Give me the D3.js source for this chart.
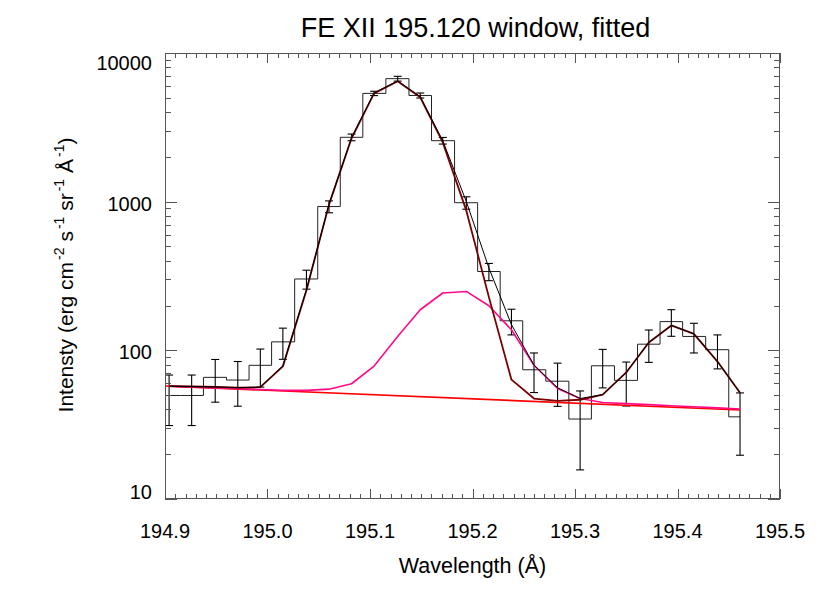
<!DOCTYPE html>
<html>
<head>
<meta charset="utf-8">
<script src="https://cdn.jsdelivr.net/npm/d3@7"></script>
<style>
  body { margin: 0; background: #fff; }
  svg text { font-family: "Liberation Sans", Arial, Helvetica, sans-serif; fill: #000; }
</style>
</head>
<body>
<script>
// spectrum bins (Angstrom) and measured intensity with 1-sigma errors
const wavelength = [194.904, 194.926, 194.949, 194.971, 194.993, 195.015, 195.038, 195.060, 195.082,
  195.104, 195.127, 195.149, 195.171, 195.194, 195.216, 195.238, 195.260, 195.283, 195.305,
  195.327, 195.350, 195.372, 195.394, 195.416, 195.439, 195.461]
const intensity = [49.7, 49.7, 65.8, 63.1, 79.3, 114, 302, 927, 2710, 5350, 6720, 5180, 2572,
  984, 339, 158, 74, 62, 34.5, 78.7, 62.8, 110, 156, 124, 101, 35.7]
const errors = [18.5, 18.5, 21, 21, 22.7, 27, 44, 85, 140, 180, 250, 200, 132,
  94, 45, 31, 22, 20, 18.8, 22.8, 20.6, 27, 31.7, 28, 26, 16]

// fitted curves
const fitTotal = [57.4, 57.1, 56.7, 56.1, 56.5, 78.7, 256, 960, 2690, 5380, 6480, 5080, 2570,
  1000, 358, 149, 79.4, 56, 47.4, 50.4, 71, 113, 147, 129, 84, 51.8]
const fitMain = [57.4, 57.1, 56.7, 56.1, 56.5, 78, 254, 955, 2670, 5350, 6450, 5040, 2506,
  870, 228, 63.5, 47.4, 45.7, 46.5, 50.4, 71, 113, 147, 129, 84, 51.8]
const fitBlend = [57.3, 56.6, 55.9, 55.2, 54.5, 53.8, 53.8, 54.8, 59.6, 78.4, 124, 187.5, 243,
  249, 199.5, 137.5, 79.4, 55.4, 47.4, 44.6, 43.8, 43.1, 42.4, 41.7, 41.0, 40.3]
const bgWave = [194.9, 195.461]
const bgLevel = [57.5, 39.7]

const xTicks = [194.9, 195.0, 195.1, 195.2, 195.3, 195.4, 195.5]
const xTickLabels = ['194.9', '195.0', '195.1', '195.2', '195.3', '195.4', '195.5']
const yTicks = [10, 100, 1000, 10000]
const yTickLabels = ['10', '100', '1000', '10000']

const width = 830
const height = 604
const plotLeft = 165, plotRight = 780, plotTop = 53, plotBottom = 499

const svg = d3.select('body').append('svg')
  .attr('width', width)
  .attr('height', height)

const x = d3.scaleLinear().domain([194.9, 195.5]).range([plotLeft, plotRight])
const y = d3.scaleLog().domain([10, 10000]).range([plotBottom, plotTop])

svg.append('defs').append('clipPath').attr('id', 'plot')
  .append('rect')
  .attr('x', plotLeft).attr('y', plotTop)
  .attr('width', plotRight - plotLeft).attr('height', plotBottom - plotTop)

const plot = svg.append('g').attr('clip-path', 'url(#plot)')

// histogram (psym=10 style steps)
let d = ''
wavelength.forEach((w, i) => {
  const px = x(w), py = y(intensity[i])
  if (i === 0) {
    const half = (x(wavelength[1]) - px) / 2
    d += `M${px - half},${py}`
  } else {
    const mid = (x(wavelength[i - 1]) + px) / 2
    d += `H${mid}V${py}`
  }
})
d += `H${x(wavelength[wavelength.length - 1])}`
plot.append('path')
  .attr('d', d)
  .attr('fill', 'none')
  .attr('stroke', '#222')
  .attr('stroke-width', 1)

// error bars
const bars = plot.append('g')
  .attr('stroke', '#000')
  .attr('stroke-width', 1.1)
  .selectAll('g')
  .data(wavelength)
  .enter().append('g')
bars.append('line')
  .attr('x1', (w) => x(w)).attr('x2', (w) => x(w))
  .attr('y1', (w, i) => y(intensity[i] + errors[i]))
  .attr('y2', (w, i) => y(intensity[i] - errors[i]))
bars.append('line')
  .attr('x1', (w) => x(w) - 4).attr('x2', (w) => x(w) + 4)
  .attr('y1', (w, i) => y(intensity[i] + errors[i]))
  .attr('y2', (w, i) => y(intensity[i] + errors[i]))
bars.append('line')
  .attr('x1', (w) => x(w) - 4).attr('x2', (w) => x(w) + 4)
  .attr('y1', (w, i) => y(intensity[i] - errors[i]))
  .attr('y2', (w, i) => y(intensity[i] - errors[i]))

const line = d3.line()
  .x((p) => x(p[0]))
  .y((p) => y(p[1]))

function drawCurve(values, waves, color, w) {
  plot.append('path')
    .datum(waves.map((wv, i) => [wv, values[i]]))
    .attr('d', line)
    .attr('fill', 'none')
    .attr('stroke', color)
    .attr('stroke-width', w)
    .attr('stroke-linejoin', 'round')
}

drawCurve(bgLevel, bgWave, '#ff0000', 1.6)
drawCurve(fitBlend, wavelength, '#ff0a88', 1.6)
drawCurve(fitMain, wavelength, '#7a0000', 1.8)
drawCurve(fitTotal, wavelength, '#000', 1)

// frame and ticks
const axis = svg.append('g').attr('stroke', '#555').attr('stroke-width', 1)
axis.append('rect')
  .attr('x', plotLeft + 0.5).attr('y', plotTop + 0.5)
  .attr('width', plotRight - plotLeft - 1).attr('height', plotBottom - plotTop - 1)
  .attr('fill', 'none')

const xMinor = d3.range(0, 61).map((i) => 194.9 + i * 0.01)
xMinor.forEach((v, i) => {
  const len = i % 10 === 0 ? 10 : 5
  const px = Math.round(x(v)) + 0.5
  axis.append('line').attr('x1', px).attr('x2', px).attr('y1', plotBottom).attr('y2', plotBottom - len)
  axis.append('line').attr('x1', px).attr('x2', px).attr('y1', plotTop).attr('y2', plotTop + len)
})

const yMinor = []
;[10, 100, 1000].forEach((dec) => {
  for (let k = 1; k < 10; k++) yMinor.push(dec * k)
})
yMinor.push(10000)
yMinor.forEach((v) => {
  const major = yTicks.includes(v)
  const len = major ? 12 : 6
  const py = Math.round(y(v)) + 0.5
  axis.append('line').attr('x1', plotLeft).attr('x2', plotLeft + len).attr('y1', py).attr('y2', py)
  axis.append('line').attr('x1', plotRight).attr('x2', plotRight - len).attr('y1', py).attr('y2', py)
})

// tick labels
svg.append('g')
  .selectAll('text')
  .data(xTicks)
  .enter().append('text')
  .attr('x', (v) => x(v))
  .attr('y', 538)
  .attr('text-anchor', 'middle')
  .attr('font-size', 20)
  .text((v, i) => xTickLabels[i])

svg.append('g')
  .selectAll('text')
  .data(yTicks)
  .enter().append('text')
  .attr('x', 152)
  .attr('y', (v) => Math.min(Math.max(y(v) + 2, plotTop + 10), plotBottom - 7))
  .attr('dy', '0.35em')
  .attr('text-anchor', 'end')
  .attr('font-size', 20)
  .text((v, i) => yTickLabels[i])

// titles
svg.append('text')
  .attr('x', (plotLeft + plotRight) / 2 + 3)
  .attr('y', 37)
  .attr('text-anchor', 'middle')
  .attr('font-size', 27)
  .text('FE XII 195.120 window, fitted')

svg.append('text')
  .attr('x', (plotLeft + plotRight) / 2)
  .attr('y', 573)
  .attr('text-anchor', 'middle')
  .attr('font-size', 21.5)
  .text('Wavelength (Å)')

const ylab = svg.append('text')
  .attr('transform', 'translate(73,275) rotate(-90)')
  .attr('text-anchor', 'middle')
  .attr('font-size', 21)
const parts = [['Intensty (erg cm', ''], ['-2', 's'], [' s', ''], ['-1', 's'], [' sr', ''], ['-1', 's'],
  [' Å', ''], ['-1', 's'], [')', '']]
let raised = false
parts.forEach(([t, kind]) => {
  const sp = ylab.append('tspan').text(t)
  if (kind === 's') {
    sp.attr('font-size', 14).attr('dy', -9).attr('dx', 2)
    raised = true
  } else if (raised) {
    sp.attr('dy', 9)
    raised = false
  }
})
</script>
</body>
</html>
